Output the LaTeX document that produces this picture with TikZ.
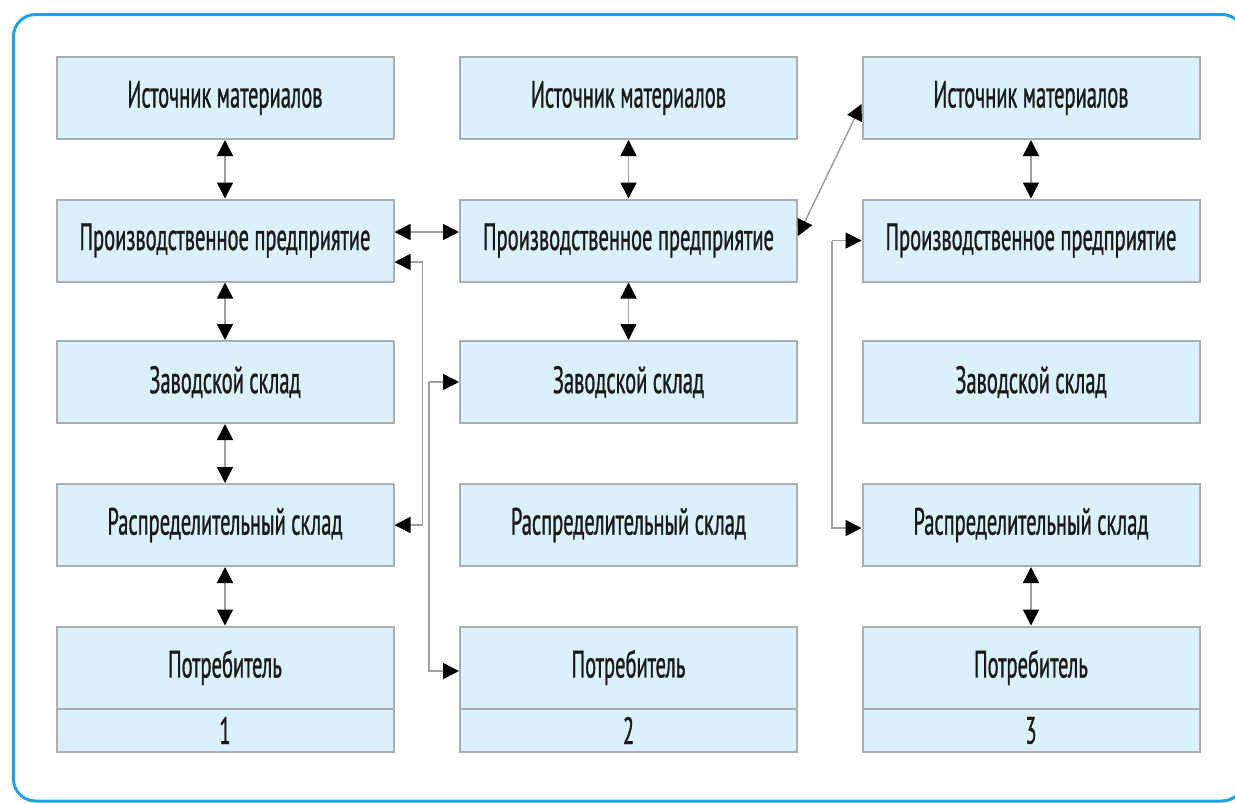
\documentclass[tikz,border=0pt]{standalone}
\usepackage{fontspec}
\setmainfont{PT Sans}[FakeStretch=0.54,FakeBold=0.8]
\usetikzlibrary{arrows.meta,calc}
\definecolor{boxfill}{HTML}{DAF1FB}
\definecolor{boxline}{HTML}{A8B0B4}
\definecolor{frameblue}{HTML}{1BA3E3}
\definecolor{conn}{HTML}{A0A0A0}
\definecolor{txt}{HTML}{1A1A1A}
\begin{document}
\begin{tikzpicture}[x=1pt,y=-1pt,
  box/.style={draw=boxline,line width=2pt,fill=boxfill,minimum width=337pt,minimum height=82pt,
    inner sep=0pt,font=\fontsize{38}{40}\selectfont,text=txt},
  numbox/.style={box,minimum height=43pt},
  dbl/.style={draw=conn,line width=1.5pt,{Triangle[length=16pt,width=16pt,fill=black,color=black]}-{Triangle[length=16pt,width=16pt,fill=black,color=black]}},
  one/.style={draw=conn,line width=1.5pt,-{Triangle[length=16pt,width=16pt,fill=black,color=black]}}]
\useasboundingbox (0,0) rectangle (1235,803);
\begin{scope}
\clip (0,0) rectangle (1235,803);
\draw[frameblue,line width=3pt,rounded corners=22pt] (13.5,14.5) rectangle (1244,801);
\end{scope}
% columns
\foreach \c/\x in {a/225,b/628.5,c/1031}{
  \node[box] (\c1) at (\x,98) {Источник материалов};
  \node[box] (\c2) at (\x,240.5) {Производственное предприятие};
  \node[box] (\c3) at (\x,382) {Заводской склад};
  \node[box] (\c4) at (\x,525) {Распределительный склад};
  \node[box] (\c5) at (\x,667.5) {Потребитель};
}
\node[numbox] (an) at (225,730.5) {1};
\node[numbox] (bn) at (628.5,730.5) {2};
\node[numbox] (cn) at (1031,730.5) {3};
% vertical links
\draw[dbl] (a1.south) -- (a2.north);
\draw[dbl] (a2.south) -- (a3.north);
\draw[dbl] (a3.south) -- (a4.north);
\draw[dbl] (a4.south) -- (a5.north);
\draw[dbl] (b1.south) -- (b2.north);
\draw[dbl] (b2.south) -- (b3.north);
\draw[dbl] (c1.south) -- (c2.north);
\draw[dbl] (c4.south) -- (c5.north);
% horizontal links
\draw[dbl] ([yshift=8.5pt]a2.east) -- ([yshift=8.5pt]b2.west);
\draw[dbl] ([yshift=-21.5pt]a2.east) -- ++(28,0) |- (a4.east);
\coordinate (m1) at (429,382);
\draw[one] (m1) -- (b3.west);
\draw[one] (m1) |- ([yshift=-3.5pt]b5.west);
\draw[dbl] ([yshift=4.5pt]b2.east) -- ([yshift=-6pt]c1.west);
\coordinate (r1) at (832,240.5);
\draw[one] (r1) -- (c2.west);
\draw[one] (r1) |- ([yshift=-3pt]c4.west);
\end{tikzpicture}
\end{document}
